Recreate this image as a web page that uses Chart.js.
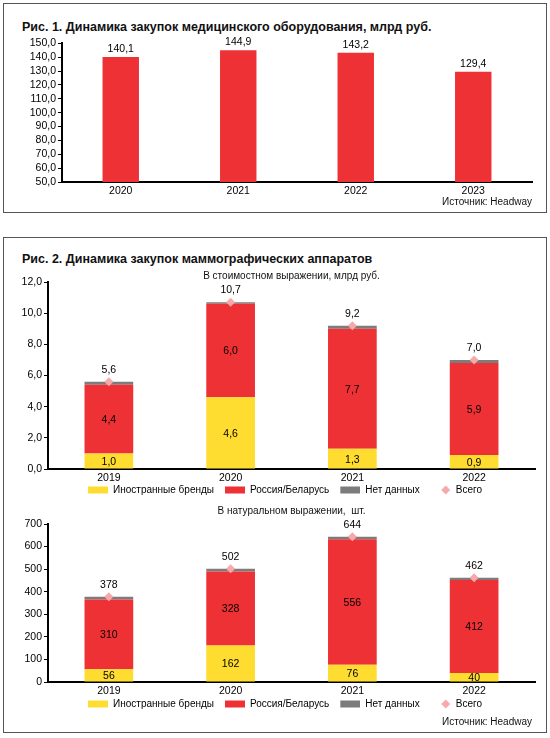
<!DOCTYPE html>
<html lang="ru">
<head>
<meta charset="utf-8">
<title>Динамика закупок</title>
<script src="https://cdn.jsdelivr.net/npm/chart.js@4.4.1/dist/chart.umd.min.js"></script>
<style>
  body { margin: 0; width: 550px; height: 738px; background: #fff; position: relative; overflow: hidden;
         font-family: "Liberation Sans", Arial, sans-serif; color: #111; }
  .box { position: absolute; left: 3px; width: 544px; border: 1px solid #555; box-sizing: border-box; }
  .title { position: absolute; left: 22px; font-weight: bold; font-size: 12.5px; line-height: 14px; white-space: nowrap; }
  .sub { position: absolute; left: 48px; width: 487px; text-align: center; font-size: 10px; line-height: 12px; z-index: 2; }
  .src { position: absolute; right: 18px; font-size: 10px; line-height: 12px; }
  canvas { position: absolute; left: 0; }
</style>
</head>
<body>
<div class="box" style="top:3px;height:210px"></div>
<div class="box" style="top:237px;height:496px"></div>

<div class="title" style="top:20px">Рис. 1. Динамика закупок медицинского оборудования, млрд руб.</div>
<canvas id="fig1" width="550" height="170" style="top:35px"></canvas>
<div class="src" style="top:196px">Источник: Headway</div>

<div class="title" style="top:252px">Рис. 2. Динамика закупок маммографических аппаратов</div>
<div class="sub" style="top:270px">В стоимостном выражении, млрд руб.</div>
<canvas id="fig2a" width="550" height="235" style="top:270px"></canvas>
<div class="sub" style="top:505px">В натуральном выражении,&nbsp; шт.</div>
<canvas id="fig2b" width="550" height="207" style="top:512px"></canvas>
<div class="src" style="top:716px">Источник: Headway</div>

<script>
// fig 1
const purchaseYears = ['2020', '2021', '2022', '2023'];
const purchaseValues = [140.1, 144.9, 143.2, 129.4];
const purchaseTicks = [50, 60, 70, 80, 90, 100, 110, 120, 130, 140, 150];

// fig 2
const mammoYears = ['2019', '2020', '2021', '2022'];
const seriesNames = ['Иностранные бренды', 'Россия/Беларусь', 'Нет данных', 'Всего'];
const costForeign = [1.0, 4.6, 1.3, 0.9];
const costRussia = [4.4, 6.0, 7.7, 5.9];
const costNoData = [0.2, 0.1, 0.2, 0.2];
const costTotal = [5.6, 10.7, 9.2, 7.0];
const costTicks = [0, 2, 4, 6, 8, 10, 12];
const unitsForeign = [56, 162, 76, 40];
const unitsRussia = [310, 328, 556, 412];
const unitsNoData = [12, 12, 12, 10];
const unitsTotal = [378, 502, 644, 462];
const unitsTicks = [0, 100, 200, 300, 400, 500, 600, 700];

const RED = '#ee3135', YELLOW = '#fedd30', GREY = '#7c7c7c', PINK = '#f6a9a9';
const FONT = '"Liberation Sans", Arial, sans-serif';

Chart.defaults.font.family = FONT;
Chart.defaults.font.size = 10;
Chart.defaults.color = '#000';
Chart.defaults.animation = false;

const comma = v => v.toFixed(1).replace('.', ',');
const whole = v => String(v);

// numbers on / above the marks
const valueLabels = {
  id: 'valueLabels',
  afterDatasetsDraw(chart, args, opts) {
    const ctx = chart.ctx;
    ctx.save();
    ctx.font = '10.5px ' + FONT;
    ctx.fillStyle = '#000';
    ctx.textAlign = 'center';
    ctx.textBaseline = 'middle';
    chart.data.datasets.forEach((ds, i) => {
      if (ds.noLabel) return;
      const meta = chart.getDatasetMeta(i);
      meta.data.forEach((el, j) => {
        const txt = opts.fmt(ds.data[j]);
        if (ds.labelAbove) ctx.fillText(txt, el.x, el.y - opts.offset);
        else ctx.fillText(txt, el.x, (el.y + el.base) / 2 + 1);
      });
    });
    ctx.restore();
  }
};

// nudge the legend row a little to the left, as in the original layout
const legendShift = {
  id: 'legendShift',
  afterLayout(chart, args, opts) {
    if (!chart.legend) return;
    chart.legend.left -= opts.dx;
    chart.legend.right -= opts.dx;
  }
};

// legend markers: 11px of empty space on the left acts as the gap between items
function legendMark(color, diamond) {
  const c = document.createElement('canvas');
  c.width = 31; c.height = 10;
  const g = c.getContext('2d');
  g.fillStyle = color;
  if (diamond) {
    g.beginPath();
    g.moveTo(26, 0.5); g.lineTo(30.5, 5); g.lineTo(26, 9.5); g.lineTo(21.5, 5);
    g.closePath(); g.fill();
  } else {
    g.fillRect(11, 1.5, 20, 7);
  }
  return c;
}
const marks = [legendMark(YELLOW), legendMark(RED), legendMark(GREY), legendMark(PINK, true)];

function yAxis(ticks, fmt, width) {
  return {
    min: ticks[0], max: ticks[ticks.length - 1],
    stacked: true,
    afterBuildTicks: s => { s.ticks = ticks.map(v => ({value: v})); },
    afterFit: s => { s.width = width; },
    grid: {drawOnChartArea: false, drawTicks: true, tickLength: 4, color: '#000', lineWidth: 1},
    border: {color: '#000', width: 2},
    ticks: {padding: 2, autoSkip: false, font: {size: 10.5}, callback: v => fmt(v)}
  };
}
function xAxis(height) {
  return {
    stacked: true,
    afterFit: s => { s.height = height; },
    grid: {display: false, drawTicks: false},
    border: {color: '#000', width: 2},
    ticks: {padding: 3, font: {size: 10.5}}
  };
}

new Chart(document.getElementById('fig1'), {
  type: 'bar',
  data: {
    labels: purchaseYears,
    datasets: [{
      data: purchaseValues, backgroundColor: RED,
      barPercentage: 0.31, categoryPercentage: 1, labelAbove: true
    }]
  },
  options: {
    responsive: false,
    layout: {padding: {top: 8, left: 0, right: 18, bottom: 0}},
    scales: {x: xAxis(23), y: yAxis(purchaseTicks, comma, 62)},
    plugins: {legend: {display: false}, tooltip: {enabled: false}, valueLabels: {fmt: comma, offset: 8}}
  },
  plugins: [valueLabels]
});

function mammoChart(id, foreign, russia, noData, total, ticks, fmt, axisHeight) {
  const bar = (label, data, color, extra) => Object.assign({
    label, data, backgroundColor: color, barPercentage: 0.4, categoryPercentage: 1
  }, extra || {});
  return new Chart(document.getElementById(id), {
    type: 'bar',
    data: {
      labels: mammoYears,
      datasets: [
        bar(seriesNames[0], foreign, YELLOW),
        bar(seriesNames[1], russia, RED),
        bar(seriesNames[2], noData, GREY, {noLabel: true}),
        {
          type: 'line', label: seriesNames[3], data: total, showLine: false, order: -1,
          pointStyle: 'rectRot', pointRadius: 4.5, pointBackgroundColor: PINK, pointBorderWidth: 0,
          labelAbove: true
        }
      ]
    },
    options: {
      responsive: false,
      layout: {padding: {top: 12, left: 0, right: 15, bottom: 0}},
      scales: {x: xAxis(axisHeight), y: yAxis(ticks, fmt, 48)},
      plugins: {
        tooltip: {enabled: false},
        legend: {
          position: 'bottom',
          fullSize: false,
          labels: {
            usePointStyle: true, pointStyleWidth: 31, padding: 0, font: {size: 10},
            generateLabels: () => seriesNames.map((n, i) => ({
              text: n, pointStyle: marks[i], datasetIndex: i, lineWidth: 0,
              fillStyle: 'transparent', strokeStyle: 'transparent', fontColor: '#000'
            }))
          }
        },
        legendShift: {dx: 12},
        valueLabels: {fmt, offset: 12}
      }
    },
    plugins: [valueLabels, legendShift]
  });
}

mammoChart('fig2a', costForeign, costRussia, costNoData, costTotal, costTicks, comma, 16);
mammoChart('fig2b', unitsForeign, unitsRussia, unitsNoData, unitsTotal, unitsTicks, whole, 17);
</script>
</body>
</html>
